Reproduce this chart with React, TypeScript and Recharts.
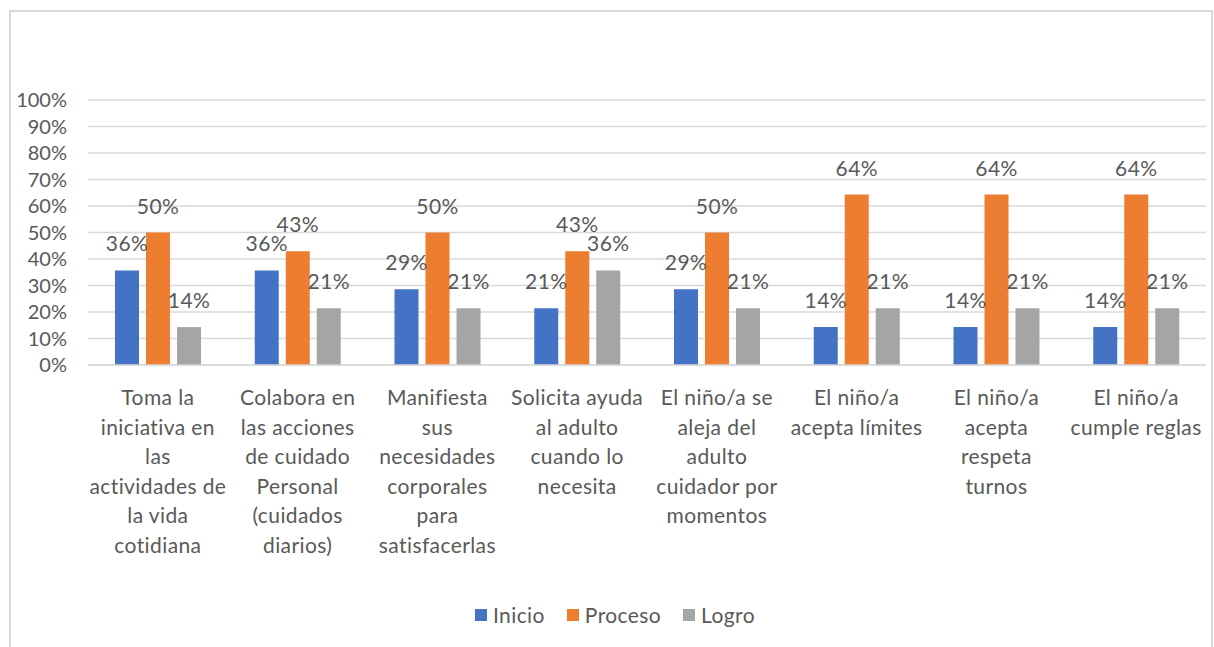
import React from "react";
import { BarChart, Bar, XAxis, YAxis, CartesianGrid, LabelList } from "recharts";

const categories: string[] = [
  "Toma la\niniciativa en\nlas\nactividades de\nla vida\ncotidiana",
  "Colabora en\nlas acciones\nde cuidado\nPersonal\n(cuidados\ndiarios)",
  "Manifiesta\nsus\nnecesidades\ncorporales\npara\nsatisfacerlas",
  "Solicita ayuda\nal adulto\ncuando lo\nnecesita",
  "El niño/a se\naleja del\nadulto\ncuidador por\nmomentos",
  "El niño/a\nacepta límites",
  "El niño/a\nacepta\nrespeta\nturnos",
  "El niño/a\ncumple reglas",
];

const inicio: number[] = [0.357, 0.357, 0.286, 0.214, 0.286, 0.143, 0.143, 0.143];
const proceso: number[] = [0.5, 0.429, 0.5, 0.429, 0.5, 0.643, 0.643, 0.643];
const logro: number[] = [0.143, 0.214, 0.214, 0.357, 0.214, 0.214, 0.214, 0.214];

const yTicks: number[] = [0, 0.1, 0.2, 0.3, 0.4, 0.5, 0.6, 0.7, 0.8, 0.9, 1];

const seriesNames = ["Inicio", "Proceso", "Logro"];
const seriesKeys = ["inicio", "proceso", "logro"];
const seriesColors = ["#4472C4", "#ED7D31", "#A5A5A5"];

const data = categories.map((c, i) => ({
  name: c,
  inicio: inicio[i],
  proceso: proceso[i],
  logro: logro[i],
}));

const FONT = "Lato, 'Open Sans', sans-serif";
const TEXT = "#595959";
const FS = 20;
const FS2 = 21;
const LS = "0.4px";

const pct = (v: any) => `${Math.round(Number(v) * 100)}%`;

const CategoryTick = (props: any) => {
  const { x, y, payload } = props;
  const lines = String(payload.value).split("\n");
  return (
    <text
      x={x}
      y={y}
      textAnchor="middle"
      fill={TEXT}
      fontFamily={FONT}
      fontSize={FS2}
      letterSpacing={LS}
    >
      {lines.map((l, i) => (
        <tspan key={i} x={x} y={y + 38 + i * 29.6}>
          {l}
        </tspan>
      ))}
    </text>
  );
};

export default function App() {
  return (
    <div style={{ position: "absolute", left: 0, top: 0, width: 1214, height: 647, overflow: "hidden", background: "#fff" }}>
      <div
        style={{
          position: "absolute",
          left: 9,
          top: 10,
          width: 1204,
          height: 720,
          border: "2px solid #d9d9d9",
          boxSizing: "border-box",
        }}
      />
      <div style={{ position: "absolute", left: 0, top: 0 }}>
        <BarChart
          width={1214}
          height={647}
          data={data}
          margin={{ top: 100, right: 8, left: 0, bottom: 0 }}
          barGap={7}
          barSize={24}
        >
          <CartesianGrid vertical={false} stroke="#d9d9d9" strokeWidth={1.5} />
          <XAxis
            dataKey="name"
            height={282}
            interval={0}
            tickLine={false}
            tickSize={0}
            axisLine={{ stroke: "#d9d9d9", strokeWidth: 1.5 }}
            tick={<CategoryTick />}
          />
          <YAxis
            width={88}
            domain={[0, 1]}
            ticks={yTicks}
            interval={0}
            tickFormatter={pct}
            axisLine={false}
            tickLine={false}
            tickSize={0}
            tickMargin={21}
            tick={{ fill: TEXT, fontFamily: FONT, fontSize: FS }}
          />
          {seriesKeys.map((k, i) => (
            <Bar key={k} dataKey={k} name={seriesNames[i]} fill={seriesColors[i]} isAnimationActive={false}>
              <LabelList
                dataKey={k}
                position="top"
                offset={19}
                formatter={pct}
                fill={TEXT}
                fontFamily={FONT}
                fontSize={FS2}
                letterSpacing={LS}
              />
            </Bar>
          ))}
        </BarChart>
      </div>
      <div
        style={{
          position: "absolute",
          left: 8,
          width: 1214,
          top: 603,
          display: "flex",
          justifyContent: "center",
          alignItems: "center",
          fontFamily: FONT,
          fontSize: FS2,
          letterSpacing: LS,
          color: TEXT,
          lineHeight: "24px",
        }}
      >
        {seriesNames.map((n, i) => (
          <div key={n} style={{ display: "flex", alignItems: "center", marginRight: i < seriesNames.length - 1 ? 22 : 0 }}>
            <span style={{ display: "inline-block", width: 12, height: 12, background: seriesColors[i], marginRight: 6 }} />
            <span>{n}</span>
          </div>
        ))}
      </div>
    </div>
  );
}
